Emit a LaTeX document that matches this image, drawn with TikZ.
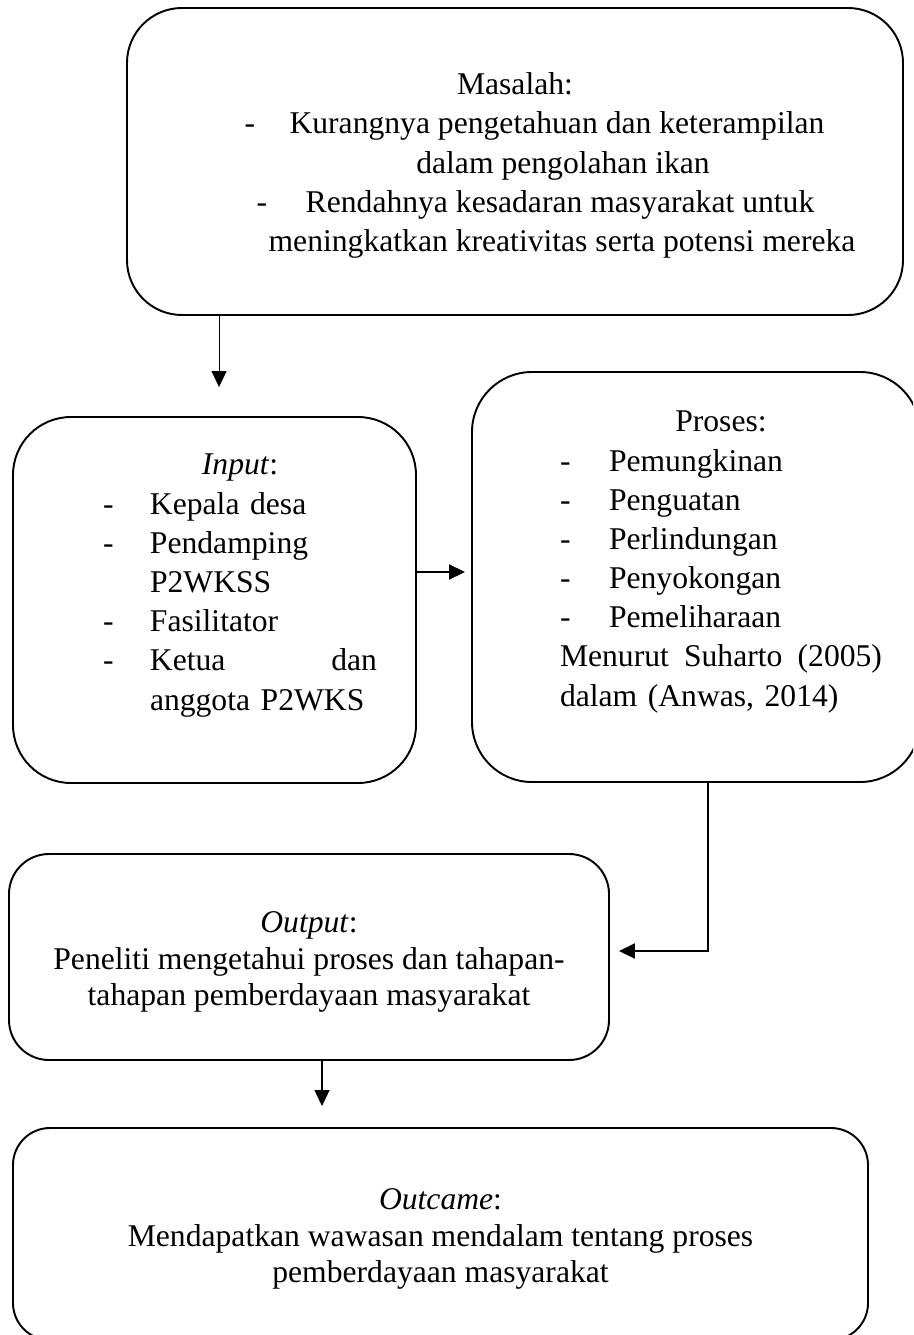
\documentclass[tikz,border=0pt]{standalone}
\usepackage{fontspec}
\setmainfont{Liberation Serif}
\usetikzlibrary{arrows.meta, positioning}

\begin{document}
\begin{tikzpicture}[
    box/.style={draw, line width=1.1pt, rounded corners=#1, inner sep=0pt},
    box/.default=1.1cm,
    boxtext/.style={font=\fontsize{18}{22.3}\selectfont, inner sep=0pt},
    smalltext/.style={font=\fontsize{18}{20.6}\selectfont, inner sep=0pt, align=center},
    arrow/.style={-{Triangle[length=0.32cm, width=0.3cm]}, line width=1.1pt},
    thinarrow/.style={-{Triangle[length=0.32cm, width=0.3cm]}, line width=0.6pt}
]
\clip (0,0) rectangle (18.26,-26.7);

% Boxes
\node[box=1.1cm, minimum width=15.52cm, minimum height=6.14cm] (masalah) at (10.30,-3.23) {};
\node[box=1.16cm, minimum width=8.06cm, minimum height=7.32cm] (input) at (4.29,-12.00) {};
\node[box=1.2cm, minimum width=8.96cm, minimum height=8.20cm] (proses) at (13.92,-11.54) {};
\node[box=0.8cm, minimum width=12.0cm, minimum height=4.12cm] (output) at (6.18,-19.14) {};
\node[box=0.74cm, minimum width=17.10cm, minimum height=4.24cm] (outcame) at (8.81,-24.68) {};

% Texts
\node[boxtext, align=center] (masalahtext) at (10.30,-3.31) {Masalah:\\
\hspace*{0.78cm}\makebox[0.9cm][l]{-}Kurangnya pengetahuan dan keterampilan\\
\hspace*{1.92cm}dalam pengolahan ikan\\
\hspace*{0.82cm}\makebox[0.98cm][l]{-}Rendahnya kesadaran masyarakat untuk\\
\hspace*{1.88cm}meningkatkan kreativitas serta potensi mereka};

\node[boxtext, align=left, text width=5.48cm] (inputtext) at (4.80,-11.71) {\makebox[5.48cm]{\textit{Input}:}\\
\makebox[0.94cm][l]{-}Kepala desa\\
\makebox[0.94cm][l]{-}Pendamping\\
\hspace*{0.94cm}P2WKSS\\
\makebox[0.94cm][l]{-}Fasilitator\\
\makebox[0.94cm][l]{-}Ketua\hfill dan\\
\hspace*{0.94cm}anggota P2WKS};

\node[boxtext, align=left, text width=6.44cm] (prosestext) at (14.42,-11.24) {\makebox[6.44cm]{Proses:}\\
\makebox[0.98cm][l]{-}Pemungkinan\\
\makebox[0.98cm][l]{-}Penguatan\\
\makebox[0.98cm][l]{-}Perlindungan\\
\makebox[0.98cm][l]{-}Penyokongan\\
\makebox[0.98cm][l]{-}Pemeliharaan\\
Menurut\hfill Suharto\hfill (2005)\\
dalam (Anwas, 2014)};

\node[smalltext] (outputtext) at (6.18,-19.24) {\textit{Output}:\\
Peneliti mengetahui proses dan tahapan-\\
tahapan pemberdayaan masyarakat};

\node[smalltext] (outcametext) at (8.81,-24.78) {\textit{Outcame}:\\
Mendapatkan wawasan mendalam tentang proses\\
pemberdayaan masyarakat};

% Arrows
\coordinate (mdown) at ([xshift=1.86cm]masalah.south west);
\coordinate (ptip) at ([yshift=0.1cm]proses.west);
\coordinate (otip) at ([yshift=0.12cm]output.east);
\coordinate (odown) at ([xshift=0.26cm]output.south);

\draw[thinarrow, shorten >=0.58cm] (mdown) -- (mdown |- input.north);
\draw[arrow, shorten >=0.12cm] (input.east |- ptip) -- (ptip);
\draw[arrow, shorten >=0.18cm] ([xshift=0.24cm]proses.south) |- (otip);
\draw[thinarrow, shorten >=0.42cm] (odown) -- (odown |- outcame.north);

\end{tikzpicture}
\end{document}
